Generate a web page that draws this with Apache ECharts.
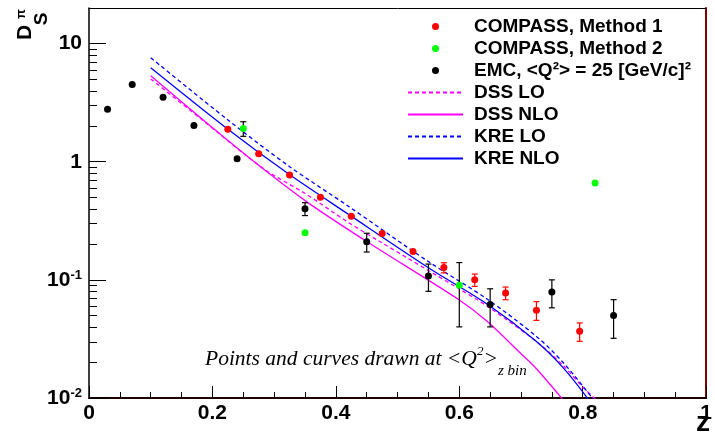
<!DOCTYPE html>
<html><head><meta charset="utf-8">
<script src="https://cdn.jsdelivr.net/npm/echarts@6/dist/echarts.min.js"></script>
<style>html,body{margin:0;padding:0;background:#fff}#c{width:715px;height:438px}</style>
</head><body><div id="c"></div>
<script>
// ---- data ----
const m1Z   = [0.225,0.275,0.325,0.375,0.425,0.475,0.525,0.575,0.625,0.675,0.725,0.795];
const m1Y   = [1.88,1.17,0.77,0.50,0.345,0.247,0.174,0.127,0.100,0.0774,0.0554,0.0367];
const m1Err = [0.02,0.015,0.01,0.008,0.007,0.006,0.006,0.0125,0.012,0.0095,0.01,0.0065];

const m2Z   = [0.25,0.35,0.60,0.82];
const m2Y   = [1.91,0.25,0.09,0.66];
const m2Err = [0.27,0,0.05,0];

const emcZ   = [0.03,0.07,0.12,0.17,0.24,0.35,0.45,0.55,0.65,0.75,0.85];
const emcY   = [2.78,4.5,3.52,2.03,1.06,0.40,0.21,0.108,0.062,0.079,0.050];
const emcErr = [0,0,0,0,0,0.05,0.038,0.028,0.022,0.021,0.018];

const dssLoZ  = [0.10,0.178,0.283,0.349,0.42,0.468,0.60,0.645,0.725,0.7685,0.80,0.825,0.831];
const dssLoY  = [5.02,2.38,0.871,0.543,0.307,0.216,0.0838,0.060,0.0301,0.0188,0.0124,0.0092,0.0079];
const dssNloZ = [0.10,0.243,0.349,0.45,0.60,0.645,0.698,0.725,0.7685,0.7765];
const dssNloY = [5.33,1.266,0.473,0.211,0.0675,0.0446,0.0243,0.0177,0.0096,0.0084];
const kreLoZ  = [0.10,0.2235,0.323,0.42,0.55,0.645,0.725,0.7685,0.818,0.828];
const kreLoY  = [7.59,2.29,0.924,0.421,0.1426,0.0688,0.0332,0.0199,0.0096,0.0079];
const kreNloZ = [0.10,0.2235,0.323,0.42,0.55,0.645,0.725,0.7685,0.81,0.8215];
const kreNloY = [6.24,1.91,0.790,0.360,0.1267,0.0624,0.0301,0.0180,0.0096,0.0076];

// minor ticks of the log axis (2..9 x 10^n)
const yMinorTicks = [0.02,0.03,0.04,0.05,0.06,0.07,0.08,0.09,
                     0.2,0.3,0.4,0.5,0.6,0.7,0.8,0.9,
                     2,3,4,5,6,7,8,9];

const names = ['COMPASS, Method 1','COMPASS, Method 2','EMC, <Q\u00B2> = 25 [GeV/c]\u00B2',
               'DSS LO','DSS NLO','KRE LO','KRE NLO'];

// ---- chart ----
const SANS = '"Liberation Sans", Arial, Helvetica, sans-serif';
const SERIF = '"Liberation Serif", "Times New Roman", serif';
const Y_MIN = 0.01, Y_MAX = 20;

function pts(z, y) { return z.map((v, i) => [v, y[i]]); }

function errSeries(z, y, e, color) {
  const data = [];
  z.forEach((v, i) => { if (e[i] > 0) data.push([v, y[i], y[i] - e[i], y[i] + e[i]]); });
  return {
    type: 'custom', data, encode: { x: 0, y: [1, 2, 3] }, z: 3, silent: true, clip: true,
    renderItem: (p, api) => {
      const lo = api.coord([api.value(0), api.value(2)]);
      const hi = api.coord([api.value(0), api.value(3)]);
      const st = { stroke: color, lineWidth: 1.2 };
      return { type: 'group', children: [
        { type: 'line', shape: { x1: lo[0], y1: lo[1], x2: hi[0], y2: hi[1] }, style: st },
        { type: 'line', shape: { x1: lo[0]-3, y1: lo[1], x2: lo[0]+3, y2: lo[1] }, style: st },
        { type: 'line', shape: { x1: hi[0]-3, y1: hi[1], x2: hi[0]+3, y2: hi[1] }, style: st }
      ]};
    }
  };
}

// log-axis minor ticks, placed through the y axis scale
function yMinorTickSeries(vals, len) {
  return {
    type: 'custom', silent: true, z: 10,
    data: vals.map(v => [0.0001, v, v]), encode: { x: 0, y: 1 },
    renderItem: (p, api) => {
      const c = api.coord([0, api.value(2)]);
      const y = Math.round(c[1]) + 0.5, x = Math.round(c[0]);
      return { type: 'group', children: [
        { type: 'line', shape: { x1: x, y1: y, x2: x + len, y2: y }, style: { stroke: '#000', lineWidth: 1 } }
      ]};
    }
  };
}

function lineSeries(name, z, y, color, dashed) {
  return {
    name, type: 'line', data: pts(z, y), symbol: 'none', smooth: 0.3, clip: true, z: 2,
    itemStyle: { color: 'rgba(0,0,0,0)' },
    lineStyle: { color, width: 1.3, type: dashed ? [4, 3] : 'solid' }
  };
}

function scatterSeries(name, z, y, color) {
  return { name, type: 'scatter', data: pts(z, y), symbol: 'circle', symbolSize: 7, z: 5,
           itemStyle: { color, opacity: 1 } };
}

const chart = echarts.init(document.getElementById('c'), null, { renderer: 'canvas' });

chart.setOption({
  backgroundColor: '#fff',
  animation: false,
  grid: { left: 89, right: 5, top: 8, bottom: 40 },
  legend: {
    left: 402, top: 12, orient: 'vertical', itemWidth: 55, itemHeight: 7, itemGap: 3,
    selectedMode: false,
    textStyle: { fontFamily: SANS, fontWeight: 'bold', fontSize: 19, color: '#000', lineHeight: 18, padding: [0, 0, 0, 6] },
    data: names
  },
  xAxis: [{
    type: 'value', min: 0, max: 1, interval: 0.2, position: 'bottom',
    axisLine: { show: true, onZero: false, lineStyle: { color: '#1a0000', width: 2 } },
    axisTick: { show: true, inside: true, length: 12, lineStyle: { color: '#000', width: 1 } },
    minorTick: { show: true, splitNumber: 4, length: 6, lineStyle: { color: '#000', width: 1 } },
    splitLine: { show: false },
    axisLabel: {
      margin: 5, color: '#000', fontFamily: SANS, fontWeight: 'bold', fontSize: 21,
      formatter: v => (v === 0 ? '0' : (Math.abs(v - 1) < 1e-9 ? '1' : v.toFixed(1)))
    }
  }, {
    type: 'value', min: 0, max: 1, position: 'top',
    axisLine: { show: true, onZero: false, lineStyle: { color: '#000', width: 1 } },
    axisTick: { show: false }, axisLabel: { show: false }, splitLine: { show: false }
  }],
  yAxis: [{
    type: 'log', logBase: 10, min: Y_MIN, max: Y_MAX, position: 'left',
    axisLine: { show: true, onZero: false, lineStyle: { color: '#000', width: 1.5 } },
    axisTick: { show: true, inside: true, length: 17, lineStyle: { color: '#000', width: 1 } },
    splitLine: { show: false },
    axisLabel: {
      margin: 7, color: '#000',
      formatter: v => {
        const l = Math.log10(v), e = Math.round(l);
        if (Math.abs(l - e) > 1e-6) return '';
        if (e === 1) return '{b|10}';
        if (e === 0) return '{b|1}';
        return '{b|10}{s|' + e + '}';
      },
      rich: {
        b: { fontFamily: SANS, fontWeight: 'bold', fontSize: 21, color: '#000', lineHeight: 22 },
        s: { fontFamily: SANS, fontWeight: 'bold', fontSize: 13, color: '#000', lineHeight: 12, verticalAlign: 'top' }
      }
    }
  }, {
    type: 'log', logBase: 10, min: Y_MIN, max: Y_MAX, position: 'right',
    axisLine: { show: true, onZero: false, lineStyle: { color: '#800000', width: 2 } },
    axisTick: { show: false }, axisLabel: { show: false }, splitLine: { show: false }
  }],
  series: [
    yMinorTickSeries(yMinorTicks, 8),
    lineSeries(names[3], dssLoZ, dssLoY, '#ff00ff', true),
    lineSeries(names[4], dssNloZ, dssNloY, '#ff00ff', false),
    lineSeries(names[5], kreLoZ, kreLoY, '#0000ff', true),
    lineSeries(names[6], kreNloZ, kreNloY, '#0000ff', false),
    errSeries(emcZ, emcY, emcErr, '#000'),
    errSeries(m2Z, m2Y, m2Err, '#000'),
    errSeries(m1Z, m1Y, m1Err, '#ff0000'),
    scatterSeries(names[2], emcZ, emcY, '#000000'),
    scatterSeries(names[1], m2Z, m2Y, '#00ff00'),
    scatterSeries(names[0], m1Z, m1Y, '#ff0000')
  ],
  graphic: [
    { type: 'text', x: 25.5, y: 32.5, rotation: Math.PI / 2,
      style: { text: 'D', fill: '#000', font: 'bold 21px ' + SANS, align: 'center', verticalAlign: 'middle' } },
    { type: 'text', x: 41.5, y: 19, rotation: Math.PI / 2,
      style: { text: 'S', fill: '#000', font: 'bold 19px ' + SANS, align: 'center', verticalAlign: 'middle' } },
    { type: 'text', x: 21, y: 14, rotation: Math.PI / 2,
      style: { text: '\u03C0', fill: '#000', font: 'bold 13px ' + SANS, align: 'center', verticalAlign: 'middle' } },
    { type: 'text', x: 703, y: 423, style: { text: 'z', fill: '#000', font: 'bold 28px ' + SANS, align: 'center', verticalAlign: 'middle' } },
    { type: 'text', x: 205, y: 339, z: 10,
      style: {
        text: '{m|Points and curves drawn at <Q}{sup|2}{m|>}{sub|z bin}',
        align: 'left', verticalAlign: 'top',
        rich: {
          m: { fontFamily: SERIF, fontStyle: 'italic', fontSize: 21.5, fill: '#000', lineHeight: 40 },
          sup: { fontFamily: SERIF, fontStyle: 'italic', fontSize: 13, fill: '#000', verticalAlign: 'top', padding: [6, 0, 0, 0] },
          sub: { fontFamily: SERIF, fontStyle: 'italic', fontSize: 15, fill: '#000', lineHeight: 15, verticalAlign: 'bottom' }
        }
      }
    }
  ]
});
</script>
</body></html>
